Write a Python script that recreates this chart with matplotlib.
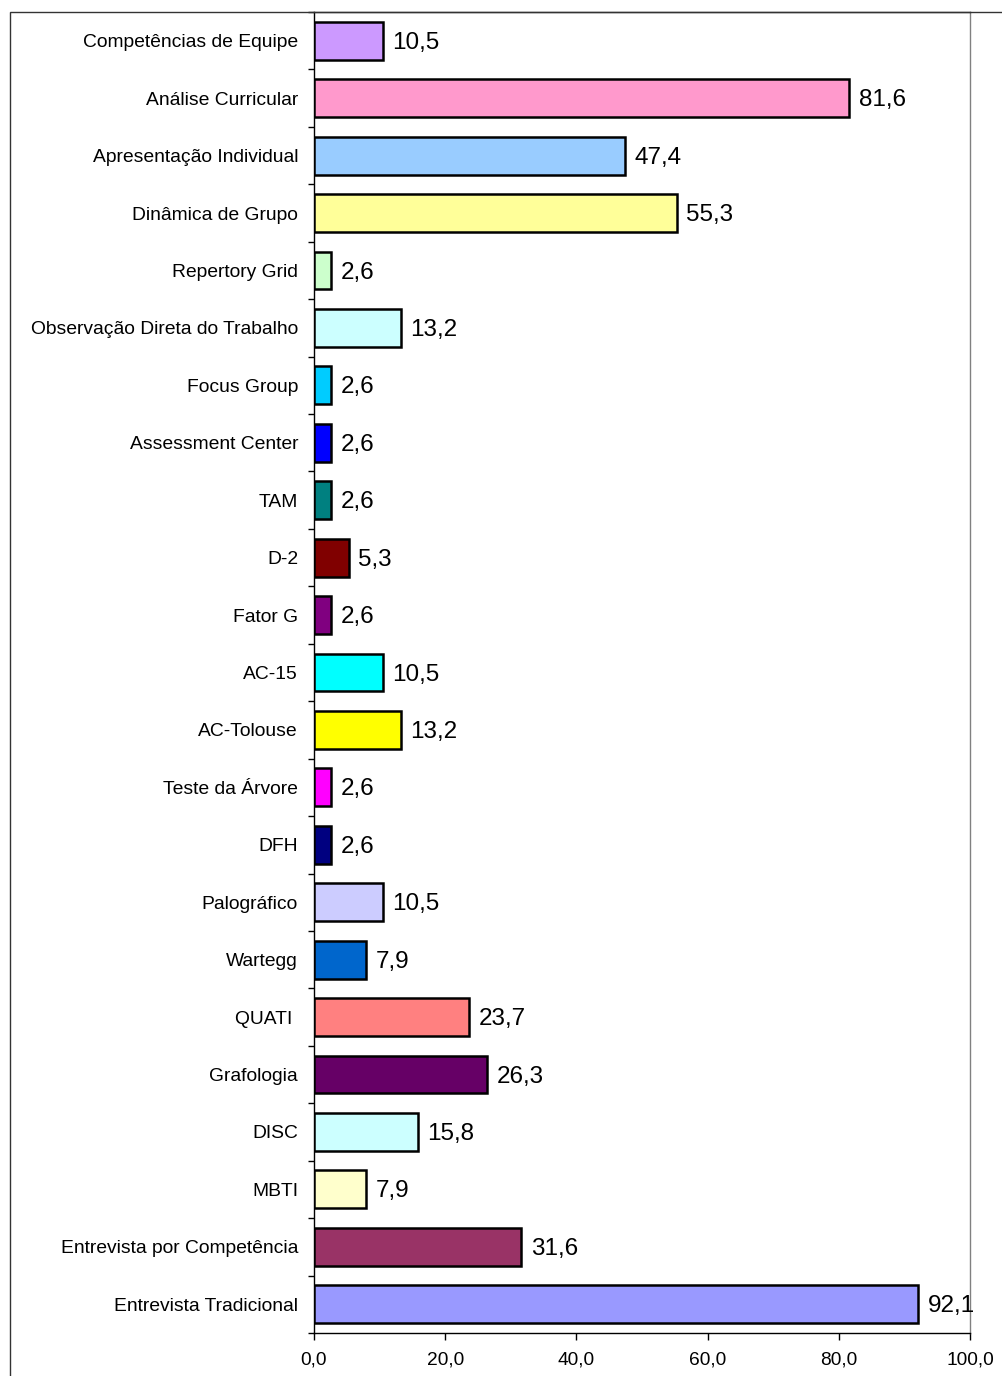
import numpy as np
import matplotlib.pyplot as plt
from matplotlib.patches import Rectangle

categories = [
    "Competências de Equipe", "Análise Curricular", "Apresentação Individual",
    "Dinâmica de Grupo", "Repertory Grid", "Observação Direta do Trabalho",
    "Focus Group", "Assessment Center", "TAM", "D-2", "Fator G", "AC-15",
    "AC-Tolouse", "Teste da Árvore", "DFH", "Palográfico", "Wartegg",
    "QUATI ", "Grafologia", "DISC", "MBTI", "Entrevista por Competência",
    "Entrevista Tradicional",
]
values = [10.5, 81.6, 47.4, 55.3, 2.6, 13.2, 2.6, 2.6, 2.6, 5.3, 2.6, 10.5,
          13.2, 2.6, 2.6, 10.5, 7.9, 23.7, 26.3, 15.8, 7.9, 31.6, 92.1]
bar_colors = ["#CC99FF", "#FF99CC", "#99CCFF", "#FFFF99", "#CCFFCC", "#CCFFFF",
              "#00CCFF", "#0000FF", "#008080", "#800000", "#800080", "#00FFFF",
              "#FFFF00", "#FF00FF", "#000080", "#CCCCFF", "#0066CC", "#FF8080",
              "#660066", "#CCFFFF", "#FFFFCC", "#993366", "#9999FF"]
x_ticks = [0, 20, 40, 60, 80, 100]

plt.rcParams['font.family'] = ['Liberation Sans', 'DejaVu Sans']

fig = plt.figure(figsize=(10.03, 13.76), dpi=100)
W, H = 1003, 1376

# chart area border (cut at right/bottom like the source)
fig.patches.append(Rectangle((10 / W, -0.1), 1.2, 1 - 12 / H + 0.1,
                             transform=fig.transFigure, fill=False,
                             edgecolor="#333333", linewidth=1.0))

ax = fig.add_axes([314 / W, 1 - 1333 / H, (970 - 314) / W, (1333 - 12) / H])

y = np.arange(len(categories))
ax.barh(y, values, height=0.66, color=bar_colors, edgecolor="black",
        linewidth=1.8, zorder=3)

for yi, v in zip(y, values):
    ax.annotate(f"{v:.1f}".replace(".", ","), (v, yi), xytext=(7, -1.5),
                textcoords="offset points", va="center", ha="left",
                fontsize=17.5)

ax.set_xlim(0, 100)
ax.set_ylim(len(categories) - 0.5, -0.5)
ax.set_xticks(x_ticks)
ax.set_xticklabels([f"{t:.1f}".replace(".", ",") for t in x_ticks], fontsize=13.8)
ax.set_yticks(y)
ax.set_yticklabels(categories, fontsize=13.9)
ax.set_yticks(np.arange(len(categories) + 1) - 0.5, minor=True)
ax.tick_params(axis="y", which="major", length=0, pad=11.5)
ax.tick_params(axis="y", which="minor", length=4, width=1, direction="out")
ax.tick_params(axis="x", which="major", length=5, width=1, direction="out", pad=8)

ax.spines["left"].set_color("black")
ax.spines["bottom"].set_color("black")
ax.spines["top"].set_color("#333333")
ax.spines["right"].set_color("#808080")
for s in ax.spines.values():
    s.set_linewidth(1.0)

fig.savefig("out.png", dpi=100)
